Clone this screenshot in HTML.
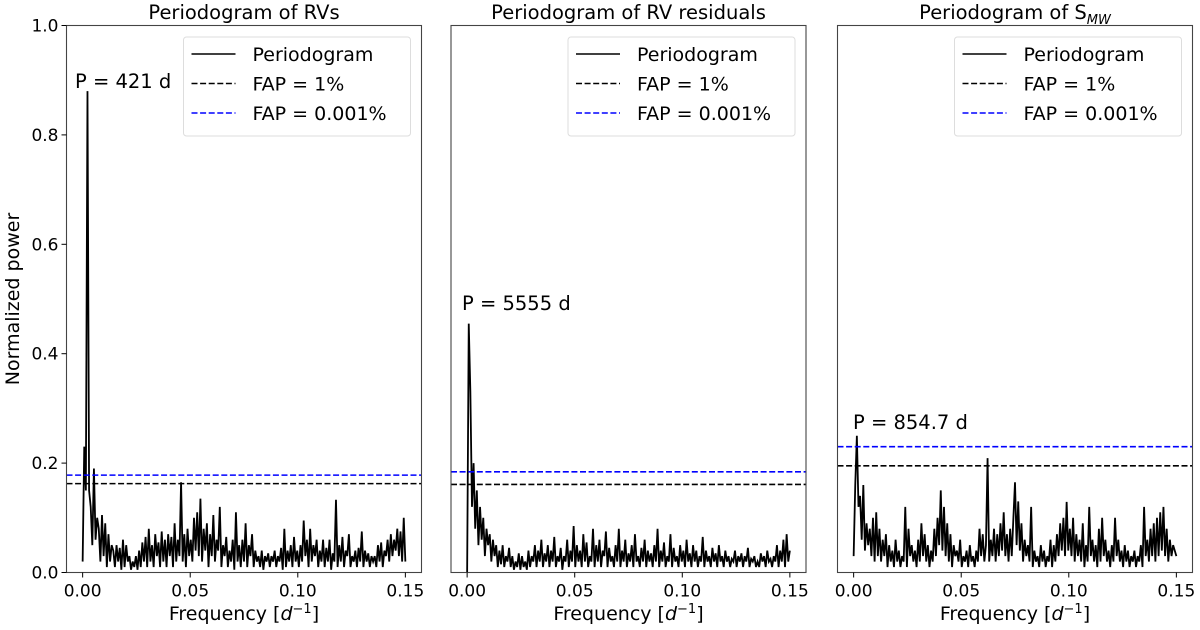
<!DOCTYPE html>
<html><head><meta charset="utf-8"><style>
html,body{margin:0;padding:0;background:#fff}
svg{display:block;font-family:"DejaVu Sans","Liberation Sans",sans-serif}
</style></head><body>
<svg id="chart" width="1200" height="630" viewBox="0 0 1200 630" xmlns="http://www.w3.org/2000/svg"></svg>
<script>
const freqStep = 0.00075;
const titles = ["Periodogram of RVs","Periodogram of RV residuals","Periodogram of S"];
const peakLabels = ["P = 421 d","P = 5555 d","P = 854.7 d"];
const fap1 = [0.1625, 0.161, 0.195];
const fap2 = [0.178, 0.184, 0.23];
const yTicks = [0.0,0.2,0.4,0.6,0.8,1.0];
const xTicks = [0.00,0.05,0.10,0.15];
const power1 = [0.02,0.23,0.15,0.88,0.15,0.12,0.05,0.19,0.06,0.1,
0.08,0.02,0.105,0.03,0.09,0.01,0.07,0.02,0.05,0.04,
0.01,0.05,0.02,0.045,0.005,0.06,0.01,0.05,0.02,0.03,
0.005,0.02,0.01,0.03,0.005,0.04,0.01,0.055,0.02,0.065,
0.01,0.08,0.02,0.05,0.01,0.07,0.03,0.055,0.01,0.075,
0.02,0.06,0.01,0.07,0.03,0.065,0.01,0.09,0.02,0.06,
0.03,0.165,0.02,0.07,0.01,0.08,0.03,0.06,0.02,0.1,
0.04,0.11,0.03,0.135,0.02,0.08,0.04,0.09,0.01,0.07,
0.03,0.105,0.02,0.06,0.04,0.12,0.01,0.05,0.03,0.065,
0.01,0.04,0.02,0.06,0.005,0.11,0.02,0.05,0.01,0.06,
0.02,0.09,0.01,0.05,0.03,0.07,0.01,0.04,0.02,0.03,
0.01,0.04,0.005,0.03,0.02,0.035,0.01,0.03,0.02,0.04,
0.01,0.03,0.02,0.045,0.005,0.08,0.01,0.04,0.02,0.05,
0.01,0.065,0.02,0.04,0.01,0.05,0.02,0.095,0.03,0.06,
0.01,0.08,0.02,0.05,0.03,0.06,0.01,0.04,0.02,0.06,
0.01,0.045,0.02,0.06,0.005,0.035,0.02,0.133,0.01,0.05,
0.02,0.065,0.01,0.04,0.03,0.07,0.01,0.03,0.02,0.04,
0.01,0.045,0.02,0.075,0.01,0.04,0.02,0.035,0.01,0.03,
0.02,0.03,0.01,0.05,0.02,0.055,0.01,0.04,0.03,0.06,
0.02,0.07,0.03,0.06,0.04,0.08,0.03,0.075,0.02,0.1,0.02];
const power2 = [0.0,0.455,0.33,0.12,0.2,0.08,0.15,0.05,0.12,0.06,
0.1,0.03,0.08,0.05,0.07,0.02,0.06,0.03,0.05,0.01,
0.04,0.015,0.05,0.01,0.03,0.02,0.045,0.01,0.03,0.005,
0.02,0.01,0.035,0.005,0.03,0.01,0.02,0.005,0.04,0.01,
0.03,0.02,0.05,0.01,0.04,0.02,0.06,0.01,0.035,0.02,
0.05,0.01,0.04,0.02,0.065,0.01,0.03,0.02,0.045,0.005,
0.03,0.02,0.06,0.01,0.04,0.02,0.085,0.01,0.05,0.02,
0.04,0.01,0.07,0.02,0.055,0.01,0.03,0.02,0.08,0.01,
0.05,0.02,0.06,0.01,0.04,0.03,0.075,0.01,0.045,0.02,
0.03,0.01,0.05,0.02,0.08,0.01,0.04,0.02,0.06,0.01,
0.035,0.02,0.05,0.01,0.07,0.02,0.03,0.01,0.045,0.02,
0.06,0.01,0.04,0.02,0.035,0.01,0.05,0.02,0.08,0.01,
0.04,0.02,0.055,0.01,0.03,0.02,0.07,0.01,0.045,0.02,
0.03,0.01,0.05,0.02,0.04,0.01,0.06,0.02,0.035,0.01,
0.05,0.02,0.04,0.01,0.03,0.02,0.065,0.01,0.04,0.02,
0.03,0.01,0.045,0.02,0.035,0.01,0.05,0.02,0.03,0.01,
0.04,0.02,0.03,0.01,0.025,0.02,0.04,0.01,0.03,0.02,
0.035,0.01,0.03,0.02,0.045,0.01,0.025,0.02,0.03,0.01,
0.02,0.01,0.035,0.02,0.03,0.01,0.04,0.02,0.025,0.01,
0.03,0.02,0.05,0.01,0.04,0.02,0.06,0.01,0.07,0.02,0.04];
const power3 = [0.03,0.16,0.25,0.12,0.14,0.06,0.16,0.04,0.09,0.05,
0.08,0.03,0.1,0.02,0.11,0.03,0.08,0.02,0.06,0.03,
0.07,0.01,0.05,0.02,0.04,0.01,0.06,0.02,0.04,0.01,
0.03,0.02,0.12,0.01,0.08,0.03,0.05,0.02,0.04,0.01,
0.06,0.02,0.09,0.03,0.07,0.02,0.05,0.01,0.04,0.02,
0.08,0.03,0.1,0.05,0.15,0.04,0.12,0.03,0.09,0.02,
0.07,0.01,0.05,0.03,0.04,0.02,0.06,0.01,0.03,0.02,
0.04,0.01,0.05,0.02,0.03,0.01,0.04,0.02,0.08,0.03,
0.07,0.02,0.05,0.209,0.02,0.06,0.03,0.08,0.02,0.07,
0.03,0.09,0.04,0.11,0.03,0.07,0.02,0.08,0.03,0.1,
0.165,0.05,0.13,0.04,0.09,0.02,0.06,0.03,0.05,0.02,
0.12,0.01,0.04,0.02,0.03,0.01,0.05,0.02,0.04,0.01,
0.03,0.02,0.06,0.01,0.05,0.02,0.07,0.03,0.09,0.04,
0.1,0.03,0.129,0.04,0.08,0.03,0.1,0.02,0.07,0.03,
0.06,0.02,0.09,0.01,0.05,0.02,0.12,0.03,0.06,0.02,
0.05,0.01,0.08,0.02,0.1,0.03,0.06,0.02,0.04,0.01,
0.05,0.02,0.1,0.03,0.06,0.02,0.04,0.01,0.05,0.02,
0.04,0.01,0.03,0.02,0.04,0.01,0.03,0.02,0.05,0.01,
0.12,0.03,0.06,0.02,0.08,0.03,0.09,0.02,0.1,0.03,
0.11,0.04,0.12,0.03,0.08,0.02,0.06,0.03,0.05,0.04,0.03];
const powers = [power1, power2, power3];

const NS="http://www.w3.org/2000/svg";
const svg=document.getElementById('chart');
function mk(tag,attrs,parent){const e=document.createElementNS(NS,tag);for(const k in attrs)e.setAttribute(k,attrs[k]);(parent||svg).appendChild(e);return e;}
const panelLeft=[66.5,451,837.5], pw=355, topY=25.5, bottomY=572.5;
const xmin=-0.0075,xmax=0.1575;
const labelPos=[[75,88],[462,310],[853,429]];
const panelNames=['rvs','residuals','smw'];
for(let p=0;p<3;p++){
  const L=panelLeft[p];
  const g=mk('g',{});
  
  
  const X=f=>L+(f-xmin)/(xmax-xmin)*pw;
  const Y=v=>bottomY-v*(bottomY-topY);
  let d='';
  powers[p].forEach((v,i)=>{d+=(i?'L':'M')+X(i*freqStep).toFixed(2)+','+Y(v).toFixed(2);});
  const line=mk('path',{d:d,fill:'none',stroke:'#000','stroke-width':1.8,'stroke-linejoin':'miter'},g);
  
  
  const f1=mk('line',{x1:L,x2:L+pw,y1:Y(fap1[p]),y2:Y(fap1[p]),stroke:'#000','stroke-width':1.6,'stroke-dasharray':'6,2.6'},g);
  
  
  const f2=mk('line',{x1:L,x2:L+pw,y1:Y(fap2[p]),y2:Y(fap2[p]),stroke:'#0000ff','stroke-width':1.6,'stroke-dasharray':'6,2.6'},g);
  
  
  const fr=mk('rect',{x:L,y:topY,width:pw,height:bottomY-topY,fill:'none',stroke:'#444','stroke-width':1.1},g);
  
  
  xTicks.forEach(t=>{
    mk('line',{x1:X(t),x2:X(t),y1:bottomY,y2:bottomY+5,stroke:'#000','stroke-width':1},g);
    const tx=mk('text',{x:X(t),y:bottomY+24,'text-anchor':'middle','font-size':17},g);
    tx.textContent=t.toFixed(2);
    
    
  });
  const xt=mk('text',{x:L+pw/2,y:620,'text-anchor':'middle','font-size':19},g);
  xt.innerHTML='Frequency [<tspan font-style="italic">d</tspan><tspan dy="-7" font-size="13">−1</tspan><tspan dy="7">]</tspan>';
  
  
  const tt=mk('text',{x:L+pw/2,y:19,'text-anchor':'middle','font-size':19.5},g);
  if(p===2){tt.innerHTML=titles[p]+'<tspan dy="5" font-size="13" font-style="italic">MW</tspan>';}else tt.textContent=titles[p];
  
  
  const pl=mk('text',{x:labelPos[p][0],y:labelPos[p][1],'font-size':19.5},g);
  pl.textContent=peakLabels[p];
  
  
  const lx=L+pw-238, ly=37;
  const lg=mk('g',{},g);
  
  
  mk('rect',{x:lx,y:ly,width:227,height:99,rx:3,fill:'#fff','fill-opacity':0.85,stroke:'#ddd','stroke-width':1},lg);
  const entries=[['Periodogram','#000',null],['FAP = 1%','#000','6,2.6'],['FAP = 0.001%','#0000ff','6,2.6']];
  entries.forEach((en,k)=>{
    const cy=ly+17+k*29.5;
    const a={x1:lx+8,x2:lx+52,y1:cy,y2:cy,stroke:en[1],'stroke-width':1.6};
    if(en[2])a['stroke-dasharray']=en[2];
    mk('line',a,lg);
    const t=mk('text',{x:lx+69,y:cy+7,'font-size':19},lg);
    t.textContent=en[0];
    
    
  });
  if(p===0){
    yTicks.forEach(t=>{
      mk('line',{x1:L-5,x2:L,y1:Y(t),y2:Y(t),stroke:'#000','stroke-width':1});
      const tx=mk('text',{x:L-8,y:Y(t)+6,'text-anchor':'end','font-size':17});
      tx.textContent=t.toFixed(1);
      
      
    });
  }
}
const yt=mk('text',{x:0,y:0,'text-anchor':'middle','font-size':19,transform:'translate(19,299) rotate(-90)'});
yt.textContent='Normalized power';


</script>
</body></html>
